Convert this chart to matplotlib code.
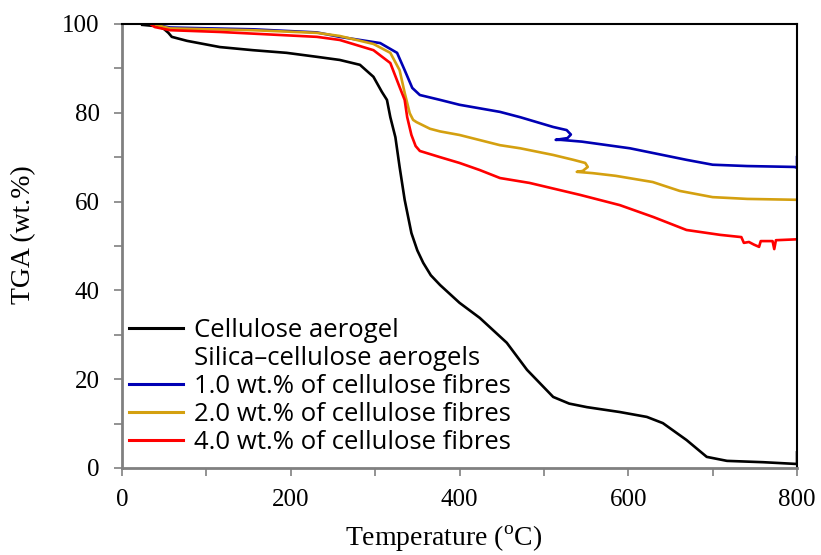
import matplotlib
matplotlib.use("Agg")
import matplotlib.pyplot as plt
from matplotlib.lines import Line2D
from matplotlib.ticker import MultipleLocator

# ── Data ──────────────────────────────────────────────────────────────────────

t_cell = [24, 41, 49, 55, 59, 77, 116, 155, 195, 231, 258, 282, 298, 308, 314,
          318, 324, 329, 335, 343, 350, 357, 366, 377, 400, 424, 456, 480, 511,
          530, 551, 590, 622, 641, 669, 693, 717, 760, 800, 800]
w_cell = [99.8, 99.5, 99.0, 98.0, 97.1, 96.2, 94.8, 94.1, 93.5, 92.6, 91.9, 90.8,
          88.1, 84.7, 82.9, 79.0, 74.5, 67.8, 60.4, 52.9, 49.0, 46.2, 43.4, 41.2,
          37.2, 33.8, 28.2, 22.1, 16.0, 14.5, 13.7, 12.6, 11.5, 10.1, 6.3, 2.5,
          1.6, 1.3, 0.9, 3.5]

t_10 = [40, 57, 155, 231, 258, 306, 326, 335, 344, 353, 377, 400, 448, 472, 511,
        527, 532, 528, 514, 520, 545, 602, 669, 700, 741, 797, 800, 800]
w_10 = [99.8, 99.2, 98.8, 98.1, 97.1, 95.7, 93.5, 89.6, 85.6, 84.0, 82.9, 81.8,
        80.2, 79.0, 76.8, 76.1, 75.1, 74.3, 73.9, 73.9, 73.5, 72.0, 69.4, 68.3,
        68.0, 67.8, 67.6, 70.0]

t_20 = [40, 57, 155, 231, 258, 298, 318, 329, 335, 341, 345, 349, 365, 377, 400,
        448, 472, 511, 535, 549, 552, 546, 539, 558, 585, 629, 661, 700, 741, 800]
w_20 = [99.8, 99.0, 98.6, 98.0, 97.3, 95.5, 93.5, 89.6, 84.5, 79.9, 78.4, 77.9,
        76.4, 75.8, 75.0, 72.7, 72.0, 70.5, 69.4, 68.7, 67.8, 66.9, 66.7, 66.4,
        65.8, 64.4, 62.4, 61.0, 60.6, 60.4]

t_40 = [35, 39, 57, 116, 231, 258, 298, 318, 329, 335, 338, 343, 348, 353, 377,
        400, 424, 448, 483, 543, 590, 630, 669, 709, 734, 737, 743, 749, 755, 757,
        765, 771, 773, 775, 800]
w_40 = [99.8, 99.3, 98.6, 98.2, 97.1, 96.4, 94.1, 91.2, 85.8, 82.9, 79.0, 75.0,
        72.5, 71.4, 70.0, 68.7, 67.1, 65.3, 64.2, 61.5, 59.2, 56.5, 53.6, 52.5,
        52.0, 50.7, 50.9, 50.3, 49.8, 51.1, 51.1, 51.1, 49.3, 51.3, 51.5]

BLACK = "#000000"
BLUE = "#0000B4"
GOLD = "#D4A010"
RED = "#FF0000"
GREY = "#808080"

# ── Plot ──────────────────────────────────────────────────────────────────────

plt.rcParams.update({
    "font.family": "Liberation Serif",
    "mathtext.fontset": "custom",
    "mathtext.rm": "Liberation Serif",
    "lines.solid_joinstyle": "round",
})

fig = plt.figure(figsize=(8.21, 5.55), dpi=100)
ax = fig.add_axes([0.1486, 0.1568, 0.8222, 0.8000])

lw = 1.9
ax.plot(t_cell, w_cell, color=BLACK, lw=lw)
ax.plot(t_10, w_10, color=BLUE, lw=lw)
ax.plot(t_20, w_20, color=GOLD, lw=lw)
ax.plot(t_40, w_40, color=RED, lw=lw)

ax.set_xlim(0, 800)
ax.set_ylim(0, 100)
ax.xaxis.set_major_locator(MultipleLocator(200))
ax.xaxis.set_minor_locator(MultipleLocator(100))
ax.yaxis.set_major_locator(MultipleLocator(20))
ax.yaxis.set_minor_locator(MultipleLocator(10))
ax.tick_params(which="both", direction="out", length=6, width=1.2,
               color=GREY, labelsize=18)
ax.tick_params(axis="x", pad=9)
ax.tick_params(axis="y", pad=10)

for side in ("left", "bottom"):
    ax.spines[side].set_color(GREY)
    ax.spines[side].set_linewidth(2)
for side in ("top", "right"):
    ax.spines[side].set_color(BLACK)
    ax.spines[side].set_linewidth(1.5)

ax.set_xlabel(r"Temperature ($^{\mathrm{o}}$C)", fontsize=20)
ax.set_ylabel("TGA (wt.%)", fontsize=20)
ax.xaxis.set_label_coords(0.476, -0.125)
ax.yaxis.set_label_coords(-0.127, 0.525)

handles = [
    Line2D([], [], color=BLACK, lw=2.2),
    Line2D([], [], color="none"),
    Line2D([], [], color=BLUE, lw=2.2),
    Line2D([], [], color=GOLD, lw=2.2),
    Line2D([], [], color=RED, lw=2.2),
]
labels = [
    "Cellulose aerogel",
    "Silica\u2013cellulose aerogels",
    "1.0 wt.% of cellulose fibres",
    "2.0 wt.% of cellulose fibres",
    "4.0 wt.% of cellulose fibres",
]
ax.legend(handles, labels, loc="lower left", bbox_to_anchor=(-0.008, 0.0),
          frameon=False, prop={"family": "Open Sans", "size": 18.5},
          handlelength=2.1, handletextpad=0.4, labelspacing=0.12,
          borderaxespad=0.3, borderpad=0.2)

fig.savefig("out.png", dpi=100)
